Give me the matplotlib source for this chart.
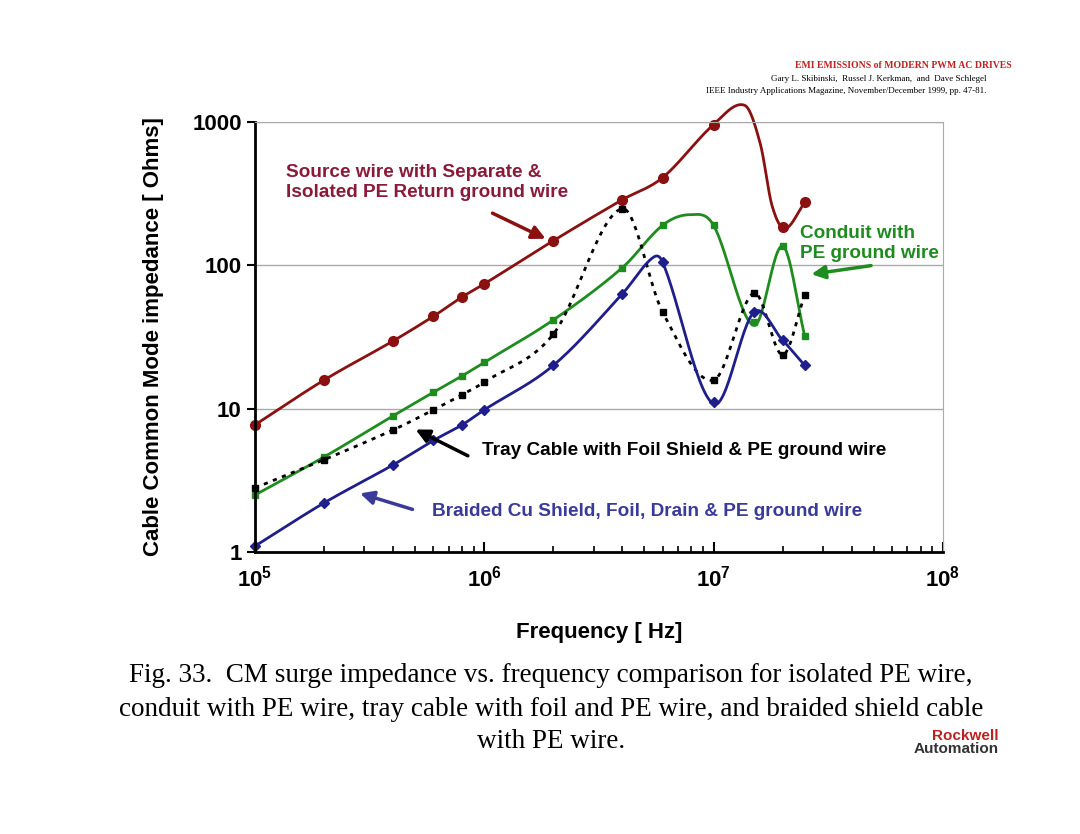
import numpy as np
import matplotlib
matplotlib.use("Agg")
import matplotlib.pyplot as plt

plt.rcParams["font.family"] = ["Liberation Sans", "DejaVu Sans"]
plt.rcParams["mathtext.fontset"] = "custom"
plt.rcParams["mathtext.bf"] = "Liberation Sans:bold"
plt.rcParams["mathtext.rm"] = "Liberation Sans:bold"

freq = [1e5, 2e5, 4e5, 6e5, 8e5, 1e6, 2e6, 4e6, 6e6, 1e7, 1.5e7, 2e7, 2.5e7]
red_f = [1e5, 2e5, 4e5, 6e5, 8e5, 1e6, 2e6, 4e6, 6e6, 1e7, 2e7, 2.5e7]
red_z = [7.7, 15.8, 29.6, 44, 60, 74, 148, 286, 408, 955, 185, 275]
green_z = [2.5, 4.6, 8.9, 13, 16.9, 21, 41.5, 96, 190, 190, 40, 136, 32]
blue_z = [1.1, 2.2, 4.05, 6.0, 7.7, 9.8, 20, 63, 105, 11.1, 47, 30, 20]
black_z = [2.8, 4.4, 7.1, 9.8, 12.5, 15.3, 33, 248, 47, 15.8, 64, 23.7, 62]
# extra curve points (peaks / dips between markers)
red_curve_f = red_f[:9] + [1e7, 1.37e7, 1.6e7, 1.8e7, 2.05e7, 2.5e7]
red_curve_z = red_z[:9] + [955, 1300, 700, 260, 180, 275]
green_curve_f = freq[:9] + [7.9e6, 1e7, 1.5e7, 2e7, 2.5e7]
green_curve_z = green_z[:9] + [225, 190, 38, 136, 32]
blue_curve_f = freq[:8] + [5.4e6, 6e6, 1e7, 1.5e7, 2e7, 2.5e7]
blue_curve_z = blue_z[:8] + [112, 105, 10.8, 47, 30, 20]
black_curve_f = freq
black_curve_z = black_z

caption_lines = ["Fig. 33.  CM surge impedance vs. frequency comparison for isolated PE wire,",
                 "conduit with PE wire, tray cable with foil and PE wire, and braided shield cable",
                 "with PE wire."]

def smooth(fx, zy, n=30):
    x = np.log10(fx); y = np.log10(zy)
    m = np.zeros_like(y)
    m[1:-1] = (y[2:] - y[:-2]) / (x[2:] - x[:-2])
    m[0] = (y[1] - y[0]) / (x[1] - x[0]); m[-1] = (y[-1] - y[-2]) / (x[-1] - x[-2])
    xs, ys = [], []
    for i in range(len(x) - 1):
        h = x[i+1] - x[i]
        t = np.linspace(0, 1, n)
        h00 = 2*t**3 - 3*t**2 + 1; h10 = t**3 - 2*t**2 + t
        h01 = -2*t**3 + 3*t**2; h11 = t**3 - t**2
        xs.append(x[i] + t*h)
        ys.append(h00*y[i] + h10*h*m[i] + h01*y[i+1] + h11*h*m[i+1])
    return 10**np.concatenate(xs), 10**np.concatenate(ys)

RED, GREEN, BLUE = "#8b1010", "#1e8c1e", "#1f1f8c"

fig = plt.figure(figsize=(10.8, 8.34), dpi=100)
ax = fig.add_axes([0.236, 0.338, 0.637, 0.516])
ax.set_xscale("log"); ax.set_yscale("log")
ax.set_xlim(1e5, 1e8); ax.set_ylim(1, 1000)

for cf, cz, mf, mz, col, mk, ls, ms in [
    (red_curve_f, red_curve_z, red_f, red_z, RED, "o", "-", 7),
    (green_curve_f, green_curve_z, freq, green_z, GREEN, "s", "-", 4),
    (black_curve_f, black_curve_z, freq, black_z, "black", "s", (0, (1.5, 2)), 5),
    (blue_curve_f, blue_curve_z, freq, blue_z, BLUE, "D", "-", 5),
]:
    sx, sy = smooth(cf, cz)
    ax.plot(sx, sy, color=col, lw=2, ls=ls, clip_on=False)
    ax.plot(mf, mz, ls="none", marker=mk, color=col, ms=ms, clip_on=False)

ax.set_yticks([1, 10, 100, 1000]); ax.set_yticklabels(["1", "10", "100", "1000"])
ax.yaxis.set_minor_locator(matplotlib.ticker.NullLocator())
ax.tick_params(axis="y", which="major", length=6, width=1.5, labelsize=16)
ax.tick_params(axis="x", which="major", direction="in", length=7, width=1.5, labelsize=16, pad=10)
ax.tick_params(axis="x", which="minor", direction="in", length=4, width=1.2)
for lab in ax.get_xticklabels() + ax.get_yticklabels():
    lab.set_fontweight("bold")
ax.grid(axis="y", which="major", color="#aaaaaa", lw=1)
for s in ["top", "right"]:
    ax.spines[s].set_color("#aaaaaa")
for s in ["left", "bottom"]:
    ax.spines[s].set_linewidth(2)
ax.set_xlabel("Frequency [ Hz]", fontsize=16, fontweight="bold", labelpad=22)
ax.set_ylabel("Cable Common Mode impedance [ Ohms]", fontsize=16, fontweight="bold", labelpad=20)

def arrow(head, tail, col):
    ax.annotate("", xy=head, xytext=tail, annotation_clip=False,
                arrowprops=dict(arrowstyle="-|>", color=col, lw=2.5, mutation_scale=20))

arrow((1.9e6, 150), (1.06e6, 235), RED)
fig.text(0.265, 0.803, "Source wire with Separate &\nIsolated PE Return ground wire", color="#8b1a3a",
         fontsize=13.7, fontweight="bold", va="top", linespacing=1.2)
arrow((2.6e7, 86), (5e7, 100), GREEN)
fig.text(0.741, 0.730, "Conduit with\nPE ground wire", color=GREEN, fontsize=13.7, fontweight="bold",
         va="top", linespacing=1.2)
arrow((4.9e5, 7.3), (8.7e5, 4.6), "black")
fig.text(0.446, 0.460, "Tray Cable with Foil Shield & PE ground wire", color="black", fontsize=13.7,
         fontweight="bold", va="center")
arrow((2.8e5, 2.6), (5e5, 1.96), "#3a3a9a")
fig.text(0.4, 0.387, "Braided Cu Shield, Foil, Drain & PE ground wire", color="#3a3a9a", fontsize=13.7,
         fontweight="bold", va="center")

fig.text(0.937, 0.918, "EMI EMISSIONS of MODERN PWM AC DRIVES", color="#c02020", fontsize=7,
         fontweight="bold", family="Liberation Serif", ha="right")
fig.text(0.913, 0.903, "Gary L. Skibinski,  Russel J. Kerkman,  and  Dave Schlegel", fontsize=6.5,
         family="Liberation Serif", ha="right")
fig.text(0.913, 0.888, "IEEE Industry Applications Magazine, November/December 1999, pp. 47-81.",
         fontsize=6.5, family="Liberation Serif", ha="right")
for i, line in enumerate(caption_lines):
    fig.text(0.51, (834 - 676 - 33 * i) / 834, line, ha="center", va="center", fontsize=19.5,
             family="Liberation Serif")
fig.text(0.925, 0.109, "Rockwell", color="#c02020", fontsize=11, fontweight="bold", ha="right", va="bottom")
fig.text(0.925, 0.094, "Automation", color="#333333", fontsize=11, fontweight="bold", ha="right", va="bottom")
fig.savefig("out.png", dpi=100)
